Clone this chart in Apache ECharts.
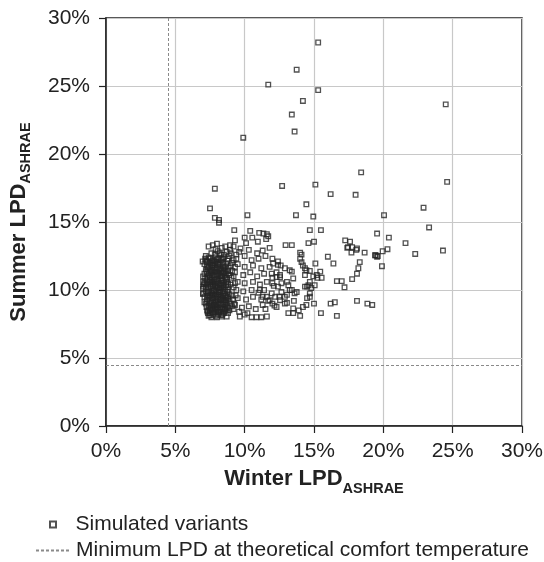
<!DOCTYPE html>
<html>
<head>
<meta charset="utf-8">
<script src="https://cdn.jsdelivr.net/npm/echarts@6/dist/echarts.min.js"></script>
<style>html,body{margin:0;padding:0;background:#fff}#c{width:544px;height:562px}</style>
</head>
<body>
<div id="c"></div>
<script>
// Axis ticks (percent)
const xTicks = [0, 5, 10, 15, 20, 25, 30];
const yTicks = [0, 5, 10, 15, 20, 25, 30];
// Minimum LPD at theoretical comfort temperature (winter / summer), percent
const minLPDWinter = 4.5;
const minLPDSummer = 4.5;

// Simulated variants [winter LPD %, summer LPD %]
const outlierPts = [
  [15.3,28.2],[13.75,26.2],[11.7,25.1],[15.3,24.7],[14.2,23.9],[13.4,22.9],[13.6,21.65],[9.9,21.2],[24.5,23.65],
  [7.85,17.45],[12.7,17.65],[15.1,17.75],[16.2,17.05],[18.0,17.0],[18.4,18.65],[24.6,17.95],[22.9,16.05],[14.45,16.3],
  [7.5,16.0],[7.85,15.3],[8.15,15.15],[8.15,14.95],[10.2,15.5],[13.7,15.5],[14.95,15.4],[20.05,15.5],
  [23.3,14.6],[19.55,14.15],[20.4,13.85],[21.6,13.45],[24.3,12.9],[22.3,12.65],[20.3,13.0],[19.95,12.85],
  [19.45,12.55],[19.55,12.45],[18.65,12.75],[19.9,11.75],[18.85,9.0],[19.2,8.9],[18.1,9.2]
];
const spreadPts = [
  [9.25,14.4],[10.4,14.35],[11.05,14.2],[11.35,14.15],[11.6,14.1],[11.7,13.95],[9.3,13.65],[10.0,13.85],[10.55,13.85],
  [10.1,13.45],[10.95,13.55],[11.55,13.75],[11.8,13.1],[14.7,14.4],[15.5,14.4],[12.95,13.3],[13.4,13.3],[14.6,13.45],
  [15.0,13.55],[17.25,13.65],[17.6,13.55],[17.4,13.1],[18.1,13.05],[17.7,12.75],[19.4,12.55],[19.6,12.5],
  [14.0,12.75],[14.1,12.6],[14.0,12.3],[14.1,12.05],[14.2,11.8],[14.35,11.6],[14.45,11.45],[14.7,11.4],[15.1,11.95],
  [15.45,11.35],[15.55,10.9],[15.25,10.9],[14.95,11.0],[15.2,11.1],[14.7,10.6],[14.5,10.25],[15.05,10.35],[14.6,10.35],
  [14.8,10.15],[14.7,9.75],[14.7,9.5],[14.5,9.4],[15.0,9.0],[16.0,12.45],[16.4,11.95],[16.65,10.65],[17.0,10.65],
  [17.2,10.2],[17.75,10.8],[18.1,11.2],[18.2,11.6],[18.3,12.05],[17.75,13.15],[18.05,12.95],[17.45,13.15],
  [16.2,9.0],[16.5,9.1],[15.5,8.3],[16.65,8.1],[14.45,8.9],[14.2,8.75],[13.9,8.5],[13.5,8.65],[13.15,8.3],[13.5,8.3],
  [14.0,8.1],[13.55,9.2],[13.05,9.05],[12.15,8.85],[12.9,11.6],[13.25,11.45],[13.5,10.85],[12.55,10.95],[12.4,10.25],
  [13.15,10.35],[13.4,10.0],[12.65,9.85],[13.05,9.65],[13.6,9.75],[12.55,9.25],[12.9,9.0],[12.3,8.75],[14.35,11.1],
  [14.35,10.25],[12.05,11.95],[12.4,11.85],[13.4,11.35],[13.05,10.6],[11.95,11.2],[12.3,10.95],[12.0,10.5],[11.6,10.6],
  [11.95,9.75],[11.6,9.5],[11.8,9.25],[11.1,10.0],[11.3,9.5],[12.55,11.1],[12.65,10.5],[13.25,10.0],[13.75,9.85],
  [12.5,9.5],[12.9,9.5],
  [9.7,13.05],[8.95,13.3],[8.35,13.1],[8.0,13.4],[7.7,13.3],[7.4,13.2],[9.2,13.2],
  [10.3,12.95],[10.9,12.7],[11.3,12.9],[11.0,12.3],[11.5,12.5],[12.0,12.3],[10.0,12.5],[9.6,12.8],[9.4,12.3],
  [10.5,12.2],[12.4,12.1],[12.6,11.8],[9.5,11.9],[10.0,11.7],[10.6,11.8],[11.2,11.6],[11.8,11.7],[12.3,11.3],
  [9.3,11.3],[9.9,11.1],[10.4,11.3],[10.9,11.0],[11.4,11.2],[12.0,10.9],[9.5,10.6],[10.0,10.5],[10.6,10.6],
  [11.1,10.4],[12.1,10.3],[9.4,10.0],[9.9,9.9],[10.5,10.0],[11.0,9.8],[11.4,10.0],[12.2,9.5],[9.5,9.4],
  [10.1,9.3],[10.6,9.5],[11.2,9.3],[11.7,9.2],[12.0,9.0],[11.3,8.9],[9.3,8.9],[9.8,8.7],[10.3,8.8],[10.8,8.6],
  [11.5,8.6],[9.6,8.4],[10.2,8.3],[9.65,8.05],[10.5,8.0],[10.85,8.0],[11.2,8.0],[11.6,8.05],[10.0,8.2]
];
const clusterPts = [
  [6.97,12.1],[7.26,12.07],[7.0,10.25],[7.0,9.75],
  [7.1,11.9],[7.3,12.1],[7.5,12.0],[7.7,12.2],[7.9,12.4],[8.1,12.3],[8.3,12.6],[8.5,12.4],[8.7,12.8],[8.9,12.5],
  [7.2,11.5],[7.4,11.7],[7.6,11.4],[7.8,11.8],[8.0,11.6],[8.2,11.9],[8.4,11.5],[8.6,11.7],[8.8,11.4],[9.0,11.8],
  [7.0,11.0],[7.3,11.2],[7.5,10.9],[7.7,11.1],[7.9,10.8],[8.1,11.2],[8.3,11.0],[8.5,11.3],[8.7,10.9],[8.9,11.1],
  [7.1,10.5],[7.3,10.7],[7.5,10.4],[7.7,10.6],[7.9,10.3],[8.1,10.7],[8.3,10.5],[8.5,10.2],[8.7,10.6],[9.0,10.4],
  [7.0,10.1],[7.2,9.9],[7.4,10.2],[7.6,9.8],[7.8,10.0],[8.0,9.7],[8.2,10.1],[8.4,9.9],[8.6,9.6],[8.8,10.0],
  [7.1,9.5],[7.3,9.3],[7.5,9.6],[7.7,9.4],[7.9,9.2],[8.1,9.5],[8.3,9.3],[8.5,9.1],[8.7,9.4],[8.9,9.2],
  [7.2,9.0],[7.4,8.8],[7.6,9.1],[7.8,8.9],[8.0,8.7],[8.2,9.0],[8.4,8.6],[8.6,8.9],[8.8,8.7],[9.1,8.8],
  [7.3,8.5],[7.5,8.3],[7.7,8.6],[7.9,8.4],[8.1,8.2],[8.3,8.4],[8.5,8.3],[8.7,8.5],[7.4,8.1],[7.6,8.0],[8.0,8.0],
  [8.35,8.05],[8.7,8.05],[7.25,11.35],[7.45,11.05],[7.65,10.75],[7.85,10.45],[8.05,10.15],[8.25,9.85],[8.45,9.55],
  [8.65,9.25],[7.35,9.75],[7.55,10.25],[7.75,9.05],[7.95,8.55],[8.15,9.65],[8.35,10.85],[8.55,11.05],[7.15,10.85],
  [7.65,11.65],[8.0,11.35],[7.4,12.4],[7.85,12.6],[8.2,12.7],[7.0,9.7],[7.0,10.6],[8.9,9.7],[9.05,10.9],[9.1,9.6],
  [8.8,8.3],[9.2,12.2],[9.1,11.4],[8.95,12.95],[7.9,13.0],[8.6,13.2],[7.6,12.7],[8.45,12.0],[9.2,10.2],[9.25,9.0],
  [7.35,8.3],[7.55,8.7],[7.75,8.2],[7.95,8.95],[8.15,8.45],[8.4,8.2],[8.6,8.6],[7.45,9.45],[7.65,9.95],[7.85,9.6],
  [8.05,9.35],[8.25,9.45],[8.45,10.4],[8.65,10.35],[7.25,10.45],[7.45,10.6],[7.85,11.3],[8.15,11.45],[8.4,11.25],
  [7.55,11.85],[7.95,12.05],[8.3,12.2],[8.75,12.15],[7.2,12.5],[8.05,12.85],
  [7.35,11.6],[7.55,11.3],[7.75,11.5],[7.95,11.05],[8.25,11.6],[8.45,11.75],[8.65,11.2],[8.85,11.65],
  [7.3,10.95],[7.6,10.55],[7.8,10.75],[8.0,10.55],[8.2,10.35],[8.4,10.65],[8.6,10.9],[8.8,10.45],
  [7.2,10.2],[7.45,9.9],[7.7,10.3],[7.9,9.95],[8.1,9.85],[8.3,10.15],[8.5,9.75],[8.75,9.85],
  [7.3,9.6],[7.5,9.2],[7.7,9.7],[7.95,9.45],[8.2,9.25],[8.4,9.4],[8.6,9.15],[8.8,9.45],
  [7.25,8.75],[7.45,8.55],[7.65,8.85],[7.85,8.65],[8.05,8.9],[8.25,8.7],[8.45,8.95],[8.7,8.75],
  [7.5,8.15],[7.7,8.35],[7.9,8.1],[8.1,8.55],[8.3,8.15],[8.55,8.45],[8.9,8.5],[9.0,9.0],
  [7.2,12.2],[7.5,12.3],[7.7,11.95],[8.0,12.25],[8.2,12.05],[8.5,12.6],[8.8,12.3],[9.0,12.7],
  [9.2,11.0],[9.3,10.5],[9.15,9.3],[9.35,9.6],[9.3,11.7],[9.4,12.6],[9.1,12.0],[9.2,8.6],
  [7.1,11.2],[7.05,10.4],[7.1,9.1],[7.15,12.3],
  [7.32,8.42],[7.52,8.62],[7.72,8.48],[7.92,8.78],[8.12,8.36],[8.32,8.92],[8.52,8.66],[8.72,9.02],
  [7.28,9.18],[7.48,9.02],[7.68,9.28],[7.88,9.12],[8.08,9.08],[8.28,9.62],[8.48,9.28],[8.68,9.58],
  [7.38,9.86],[7.58,9.62],[7.78,9.84],[7.98,10.22],[8.18,9.98],[8.38,10.28],[8.58,10.04],[8.78,10.22],
  [7.32,10.38],[7.52,10.72],[7.72,10.44],[7.92,10.62],[8.12,10.46],[8.32,10.72],[8.52,10.56],[8.72,10.78],
  [7.42,11.14],[7.62,11.22],[7.82,11.08],[8.02,11.18],[8.22,11.08],[8.42,11.02],[8.62,11.46],[8.82,11.22],
  [7.48,11.52],[7.68,11.82],[7.88,11.62],[8.08,11.84],[8.28,11.38],[8.48,11.58],[8.68,11.92],[7.28,11.72],
  [7.8,12.15],[8.4,12.3],[7.6,12.1],[8.05,11.95]
];

const chart = echarts.init(document.getElementById('c'), null, {renderer: 'canvas'});
const font = 'Liberation Sans, Arial, Helvetica, sans-serif';
const axisCommon = {
  type: 'value', min: 0, max: 30, interval: 5,
  axisLine: {show: true, onZero: false, lineStyle: {color: '#222', width: 1.5}},
  axisTick: {show: true, inside: false, length: 7, lineStyle: {color: '#222', width: 1.2}},
  splitLine: {show: true, lineStyle: {color: '#c8c8c8', width: 1.2}},
  axisLabel: {color: '#222', fontSize: 21, fontFamily: font, formatter: '{value}%'},
  nameLocation: 'middle'
};
function titleRich(pad) {
  return {
    a: {fontSize: 22, fontWeight: 'bold', fontFamily: font, color: '#222', verticalAlign: 'bottom', padding: [0, 0, pad, 0]},
    b: {fontSize: 14.5, fontWeight: 'bold', fontFamily: font, color: '#222', verticalAlign: 'bottom'}
  };
}
const pointStyle = {color: 'rgba(255,255,255,0)', borderColor: '#262626', borderWidth: 1.3};
const lineName = 'Minimum LPD at theoretical comfort temperature';
const dashStyle = {color: '#8a8a8a', width: 1, type: [3, 2]};
const legendCommon = {
  orient: 'horizontal', padding: 0,
  itemWidth: 35, itemHeight: 6, symbolKeepAspect: true,
  textStyle: {color: '#222', fontSize: 21, fontFamily: font}
};

chart.setOption({
  animation: false,
  backgroundColor: '#fff',
  grid: {left: 106, right: 22, top: 18, bottom: 136, containLabel: false, outerBoundsMode: 'none',
         show: true, borderColor: '#222', borderWidth: 1.5, backgroundColor: 'transparent'},
  xAxis: Object.assign({}, axisCommon, {
    axisLabel: Object.assign({}, axisCommon.axisLabel, {margin: 15}),
    name: '{a|Winter LPD}{b|ASHRAE}',
    nameGap: 42,
    nameTextStyle: {rich: titleRich(6)}
  }),
  yAxis: Object.assign({}, axisCommon, {
    axisLabel: Object.assign({}, axisCommon.axisLabel, {margin: 16}),
    name: '{a|Summer LPD}{b|ASHRAE}',
    nameGap: 72.5,
    nameTextStyle: {rich: titleRich(4)}
  }),
  legend: [
    Object.assign({}, legendCommon, {
      left: 49, top: 514,
      data: [{name: 'Simulated variants', icon: 'path://M0,0H10V10H0Z'}]
    }),
    Object.assign({}, legendCommon, {
      left: 35, top: 540,
      data: [{name: lineName, itemStyle: {opacity: 0}}]
    })
  ],
  series: [
    {
      name: 'Simulated variants', type: 'scatter', symbol: 'rect', symbolSize: 4.6,
      itemStyle: pointStyle,
      data: clusterPts.concat(spreadPts, outlierPts)
    },
    {
      name: lineName, type: 'line', symbol: 'none', showSymbol: false, data: [],
      lineStyle: dashStyle, itemStyle: {color: '#8a8a8a'},
      markLine: {
        silent: true, symbol: 'none', label: {show: false},
        lineStyle: dashStyle,
        data: [{xAxis: minLPDWinter}, {yAxis: minLPDSummer}]
      }
    }
  ]
});
</script>
</body>
</html>
